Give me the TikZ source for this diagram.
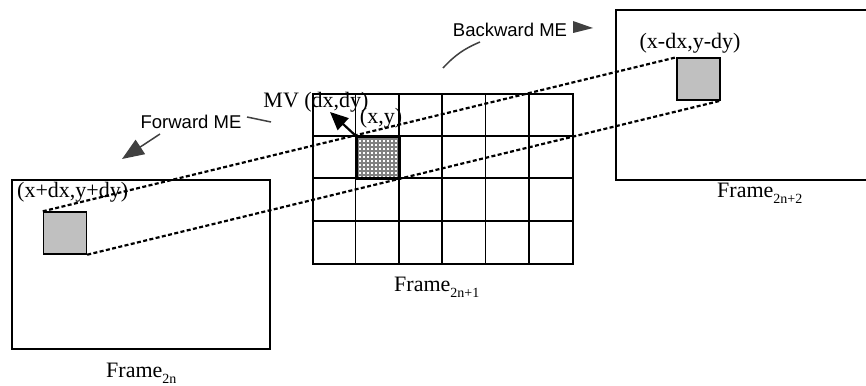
\documentclass[tikz,border=0pt]{standalone}
\usepackage{fontspec}
\setmainfont{Liberation Serif}
\newfontfamily\labelsans{Liberation Sans}
\usetikzlibrary{arrows.meta,patterns,calc}

% fine mesh of small rings for the current block
\pgfdeclarepatternformonly{ringmesh}{\pgfqpoint{-1pt}{-1pt}}{\pgfqpoint{5pt}{5pt}}{\pgfqpoint{4pt}{4pt}}{%
  \pgfsetlinewidth{0.5pt}%
  \pgfpathcircle{\pgfqpoint{2pt}{2pt}}{1.5pt}%
  \pgfusepath{stroke}}

\definecolor{arrowgray}{HTML}{404040}
\definecolor{blockgray}{HTML}{C0C0C0}

\newcommand{\framesub}[1]{\raisebox{-6pt}{\fontsize{14}{14}\selectfont #1}}

\tikzset{
  framebox/.style={draw, line width=1.6pt, inner sep=0pt},
  refblock/.style={draw, line width=1.4pt, fill=blockgray, inner sep=0pt,
                   minimum width=43pt, minimum height=42pt},
  curblock/.style={draw, line width=1.4pt, pattern=ringmesh, inner sep=0pt,
                   minimum width=43pt, minimum height=42pt},
  gridline/.style={line width=1.6pt},
  matchline/.style={line width=2.2pt, dash pattern=on 4pt off 2.4pt},
  serlabel/.style={font=\fontsize{22}{24}\selectfont, inner sep=0pt},
  sanslabel/.style={font=\labelsans\fontsize{18.5}{20}\selectfont, inner sep=0pt},
  framelabel/.style={font=\fontsize{22}{24}\selectfont, inner sep=0pt, anchor=base west},
  grayarrow/.style={draw=arrowgray, line width=1.5pt},
}

\begin{document}
\begin{tikzpicture}[x=1pt, y=-1pt]
\useasboundingbox (0,0) rectangle (866,385);

% ---- frame 2n (left) ----
\node[framebox, minimum width=258pt, minimum height=169pt] (f0) at (141,264.5) {};
\node[refblock] (b0) at (65,233) {};
\node[serlabel, anchor=west] (l0) at (17,192) {(x+dx,y+dy)};
\node[framelabel] (t0) at (106,377) {Frame\framesub{2n}};

% ---- frame 2n+1 (middle, block grid) ----
\node[framebox, minimum width=260pt, minimum height=170pt] (f1) at (443,179) {};
\foreach \i in {1,...,5}
  \draw[gridline] ($(f1.north west)+(\i*43.33,0)$) -- ($(f1.south west)+(\i*43.33,0)$);
\foreach \j in {1,2,3}
  \draw[gridline] ($(f1.north west)+(0,\j*42.5)$) -- ($(f1.north east)+(0,\j*42.5)$);
\node[curblock] (b1) at (378.5,158) {};
\node[framelabel] (t1) at (394,291) {Frame\framesub{2n+1}};
\node[serlabel] (xy) at (381,118) {(x,y)};
\node[serlabel] (mv) at (316,102) {MV (dx,dy)};
\coordinate (mvtip) at (330,112);
\draw[line width=2.2pt, -{Triangle[length=18pt,width=16pt]}] (b1.north west) -- (mvtip);

% ---- frame 2n+2 (right) ----
\node[framebox, minimum width=266pt, minimum height=170pt] (f2) at (749,95) {};
\node[refblock] (b2) at (698.5,79) {};
\node[serlabel] (l2) at (690,43) {(x-dx,y-dy)};
\node[framelabel] (t2) at (717,197) {Frame\framesub{2n+2}};

% ---- matching lines through the three blocks ----
\draw[matchline] (b0.north west) -- (b2.north west);
\draw[matchline] (b0.south east) -- (b2.south east);

% ---- direction annotations ----
\node[sanslabel] (fwd) at (191,122) {Forward ME};
\coordinate (fwdA) at (247,117);
\coordinate (fwdB) at (271,122);
\draw[grayarrow] (fwdA) -- (fwdB);
\coordinate (fwdS) at (160,134);
\coordinate (fwdT) at (122,159);
\draw[grayarrow, -{Triangle[length=22pt,width=17pt]}] (fwdS) -- (fwdT);

\node[sanslabel] (bwd) at (510,30) {Backward ME};
\coordinate (bwdA) at (480,42);
\coordinate (bwdB) at (443,68);
\draw[grayarrow] (bwdA) to[bend right=12] (bwdB);
\coordinate (bwdU) at (573,21);
\coordinate (bwdT) at (593,28);
\coordinate (bwdL) at (573,33);
\fill[arrowgray] (bwdU) -- (bwdT) -- (bwdL) -- cycle;
\end{tikzpicture}
\end{document}
